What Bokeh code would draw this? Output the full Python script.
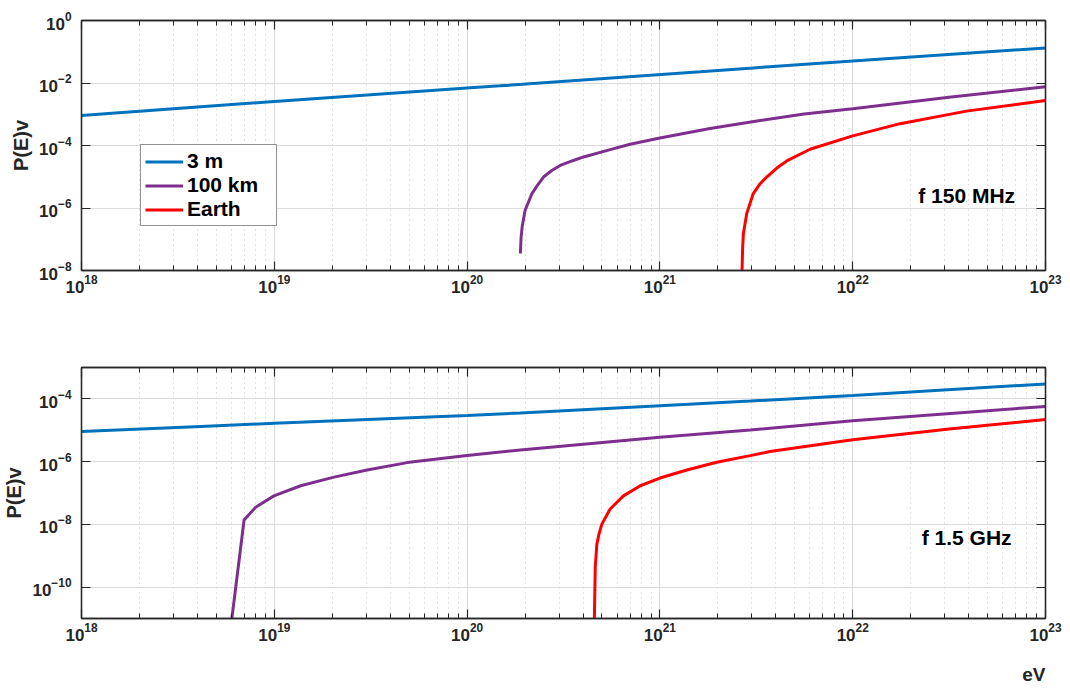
from bokeh.plotting import figure
from bokeh.models import (LogAxis, FixedTicker, LogTickFormatter, Legend,
                          LegendItem, Label, Title, Range1d)
from bokeh.layouts import column
from bokeh.embed import file_html
from bokeh.resources import INLINE

# ---------------- data ----------------
series_names = ["3 m", "100 km", "Earth"]
series_colors = ["#0072BD", "#7E2F8E", "#FF0000"]

# Panel 1: f = 150 MHz
top_3m_E = [1e18, 4.16e18, 1e19, 1e20, 1.48e20, 1.62e21, 3.31e21, 1e22, 1e23]
top_3m_P = [9.1e-4, 1.74e-3, 2.57e-3, 6.9e-3, 8.1e-3, 2.29e-2, 3.16e-2, 5.1e-2, 0.132]

top_100km_E = [1.89e20, 1.905e20, 1.93e20, 2.00e20, 2.17e20, 2.31e20, 2.49e20, 2.75e20,
               3.04e20, 3.5e20, 4.02e20, 5.52e20, 7.0e20, 1e21, 1.82e21, 3.31e21,
               5.6e21, 1e22, 3.16e22, 1e23]
top_100km_P = [3.5e-8, 1.12e-7, 2.5e-7, 8.5e-7, 2.9e-6, 5.2e-6, 9.8e-6, 1.58e-5,
               2.3e-5, 3.2e-5, 4.3e-5, 7.4e-5, 1.10e-4, 1.74e-4, 3.5e-4, 6.3e-4,
               1.02e-3, 1.51e-3, 3.5e-3, 7.6e-3]

top_earth_E = [2.66e21, 2.685e21, 2.71e21, 2.82e21, 3.05e21, 3.31e21, 3.58e21, 4.04e21,
               4.55e21, 6.01e21, 9.9e21, 1.76e22, 3.89e22, 1e23]
top_earth_P = [5e-9, 5.0e-8, 1.51e-7, 6.6e-7, 2.9e-6, 6.0e-6, 9.8e-6, 1.9e-5,
               3.2e-5, 7.6e-5, 2.0e-4, 5.0e-4, 1.26e-3, 2.75e-3]

# Panel 2: f = 1.5 GHz
bot_3m_E = [1e18, 4.16e18, 1e19, 1e20, 1.89e20, 1e21, 2.94e21, 1e22, 1e23]
bot_3m_P = [9.1e-6, 1.32e-5, 1.66e-5, 2.95e-5, 3.55e-5, 6.0e-5, 8.5e-5, 1.29e-4, 3.0e-4]

bot_100km_E = [6.01e18, 6.97e18, 8.0e18, 9.95e18, 1.37e19, 2.04e19, 3.03e19, 4.89e19,
               1e20, 1.89e20, 1e21, 2.94e21, 1e22, 1e23]
bot_100km_P = [8.9e-12, 1.38e-8, 3.5e-8, 8.1e-8, 1.70e-7, 3.2e-7, 5.4e-7, 9.3e-7,
               1.58e-6, 2.34e-6, 6.0e-6, 1.02e-5, 2.0e-5, 5.75e-5]

bot_earth_E = [4.57e20, 4.62e20, 4.71e20, 4.83e20, 5.0e20, 5.52e20, 6.47e20, 7.91e20,
               1e21, 1.38e21, 1.97e21, 2.94e21, 3.72e21, 1e22, 3.16e22, 1e23]
bot_earth_P = [8e-12, 4.3e-10, 2.34e-9, 4.9e-9, 1.02e-8, 3.1e-8, 8.1e-8, 1.70e-7,
               3.0e-7, 5.4e-7, 9.5e-7, 1.55e-6, 2.1e-6, 5.0e-6, 1.10e-5, 2.19e-5]

x_major_ticks = [1e18, 1e19, 1e20, 1e21, 1e22, 1e23]
top_y_ticks = [1e-8, 1e-6, 1e-4, 1e-2, 1e0]
bot_y_ticks = [1e-10, 1e-8, 1e-6, 1e-4]
panel_notes = ["f 150 MHz", "f 1.5 GHz"]
y_title = "P(E)v"
x_title = "eV"

# ---------------- styling ----------------
FONT = "Liberation Sans"
AX = "#262626"

x_minor_ticks = [m * t for t in x_major_ticks[:-1] for m in range(2, 10)]


def style_axis(ax, ticker, show_labels, minor=True):
    ax.ticker = ticker
    ax.axis_line_color = AX
    ax.axis_line_width = 1.3
    ax.major_tick_line_color = AX
    ax.major_tick_line_width = 1.2
    ax.major_tick_in = 9
    ax.major_tick_out = 0
    ax.minor_tick_line_color = AX if minor else None
    ax.minor_tick_line_width = 1.0
    ax.minor_tick_in = 5
    ax.minor_tick_out = 0
    if show_labels:
        ax.formatter = LogTickFormatter()
        ax.major_label_text_font = FONT
        ax.major_label_text_font_style = "bold"
        ax.major_label_text_font_size = "17px"
        ax.major_label_text_color = AX
    else:
        ax.major_label_text_font_size = "2px"
        ax.major_label_text_alpha = 0
        ax.major_label_standoff = 0


def make_panel(height, btop, bbot, ylo, yhi, yticks, E_list, P_list, note,
               note_x, note_y, legend=False):
    p = figure(width=1070, height=height, x_axis_type="log", y_axis_type="log",
               x_range=Range1d(1e18, 1e23), y_range=Range1d(ylo, yhi),
               output_backend="svg", toolbar_location=None,
               min_border_left=81, min_border_right=25,
               min_border_top=btop, min_border_bottom=bbot)
    p.outline_line_color = AX
    p.outline_line_width = 1.3
    p.background_fill_color = "white"

    xt = FixedTicker(ticks=x_major_ticks, minor_ticks=x_minor_ticks)
    yt = FixedTicker(ticks=yticks, minor_ticks=[])

    style_axis(p.xaxis[0], xt, True)
    p.xaxis[0].major_label_standoff = 4
    style_axis(p.yaxis[0], yt, True, minor=False)
    p.yaxis[0].major_label_standoff = 10
    p.yaxis[0].axis_label = y_title
    p.yaxis[0].axis_label_text_font = FONT
    p.yaxis[0].axis_label_text_font_style = "bold"
    p.yaxis[0].axis_label_text_font_size = "20px"
    p.yaxis[0].axis_label_text_color = AX
    p.yaxis[0].axis_label_standoff = 4

    top_ax = LogAxis()
    style_axis(top_ax, xt, False)
    p.add_layout(top_ax, "above")
    right_ax = LogAxis()
    style_axis(right_ax, yt, False, minor=False)
    p.add_layout(right_ax, "right")

    p.xgrid.ticker = xt
    p.ygrid.ticker = yt
    p.xgrid.grid_line_color = "#dcdcdc"
    p.ygrid.grid_line_color = "#dcdcdc"
    p.xgrid.minor_grid_line_color = "#c4c4c4"
    p.xgrid.minor_grid_line_dash = "1 4"

    renderers = []
    for E, P, c in zip(E_list, P_list, series_colors):
        renderers.append(p.line(E, P, line_color=c, line_width=3))

    p.add_layout(Label(x=note_x, y=note_y, text=note, text_align="center",
                       text_baseline="middle", text_font=FONT, text_font_style="bold",
                       text_font_size="21px", text_color="black"))

    if legend:
        items = [LegendItem(label=n, renderers=[r]) for n, r in zip(series_names, renderers)]
        lg = Legend(items=items, location=(59, 44),
                    label_text_font=FONT, label_text_font_style="bold",
                    label_text_font_size="21px", label_text_color="black",
                    glyph_width=38, glyph_height=21, label_height=21,
                    label_width=85, label_standoff=4, padding=4, spacing=0, margin=0,
                    border_line_color=AX, border_line_width=1.2,
                    background_fill_color="white", background_fill_alpha=1)
        p.add_layout(lg, "center")
    return p


p1 = make_panel(330, 20, 60, 1e-8, 1e0, top_y_ticks,
                [top_3m_E, top_100km_E, top_earth_E],
                [top_3m_P, top_100km_P, top_earth_P],
                panel_notes[0], 3.9e22, 2.5e-6, legend=True)

p2 = make_panel(358, 37, 70, 1e-11, 1e-3, bot_y_ticks,
                [bot_3m_E, bot_100km_E, bot_earth_E],
                [bot_3m_P, bot_100km_P, bot_earth_P],
                panel_notes[1], 3.9e22, 3.8e-9)
# small empty spacer title pushes the unit label further down, as in the reference
p2.add_layout(Title(text=" ", text_font_size="11px", standoff=2), "below")
p2.add_layout(Title(text=x_title, align="right", text_font=FONT,
                    text_font_style="bold", text_font_size="19px", text_color=AX,
                    vertical_align="bottom", standoff=4), "below")

layout = column(p1, p2, spacing=0)
open("out.html", "w").write(file_html(layout, INLINE))
